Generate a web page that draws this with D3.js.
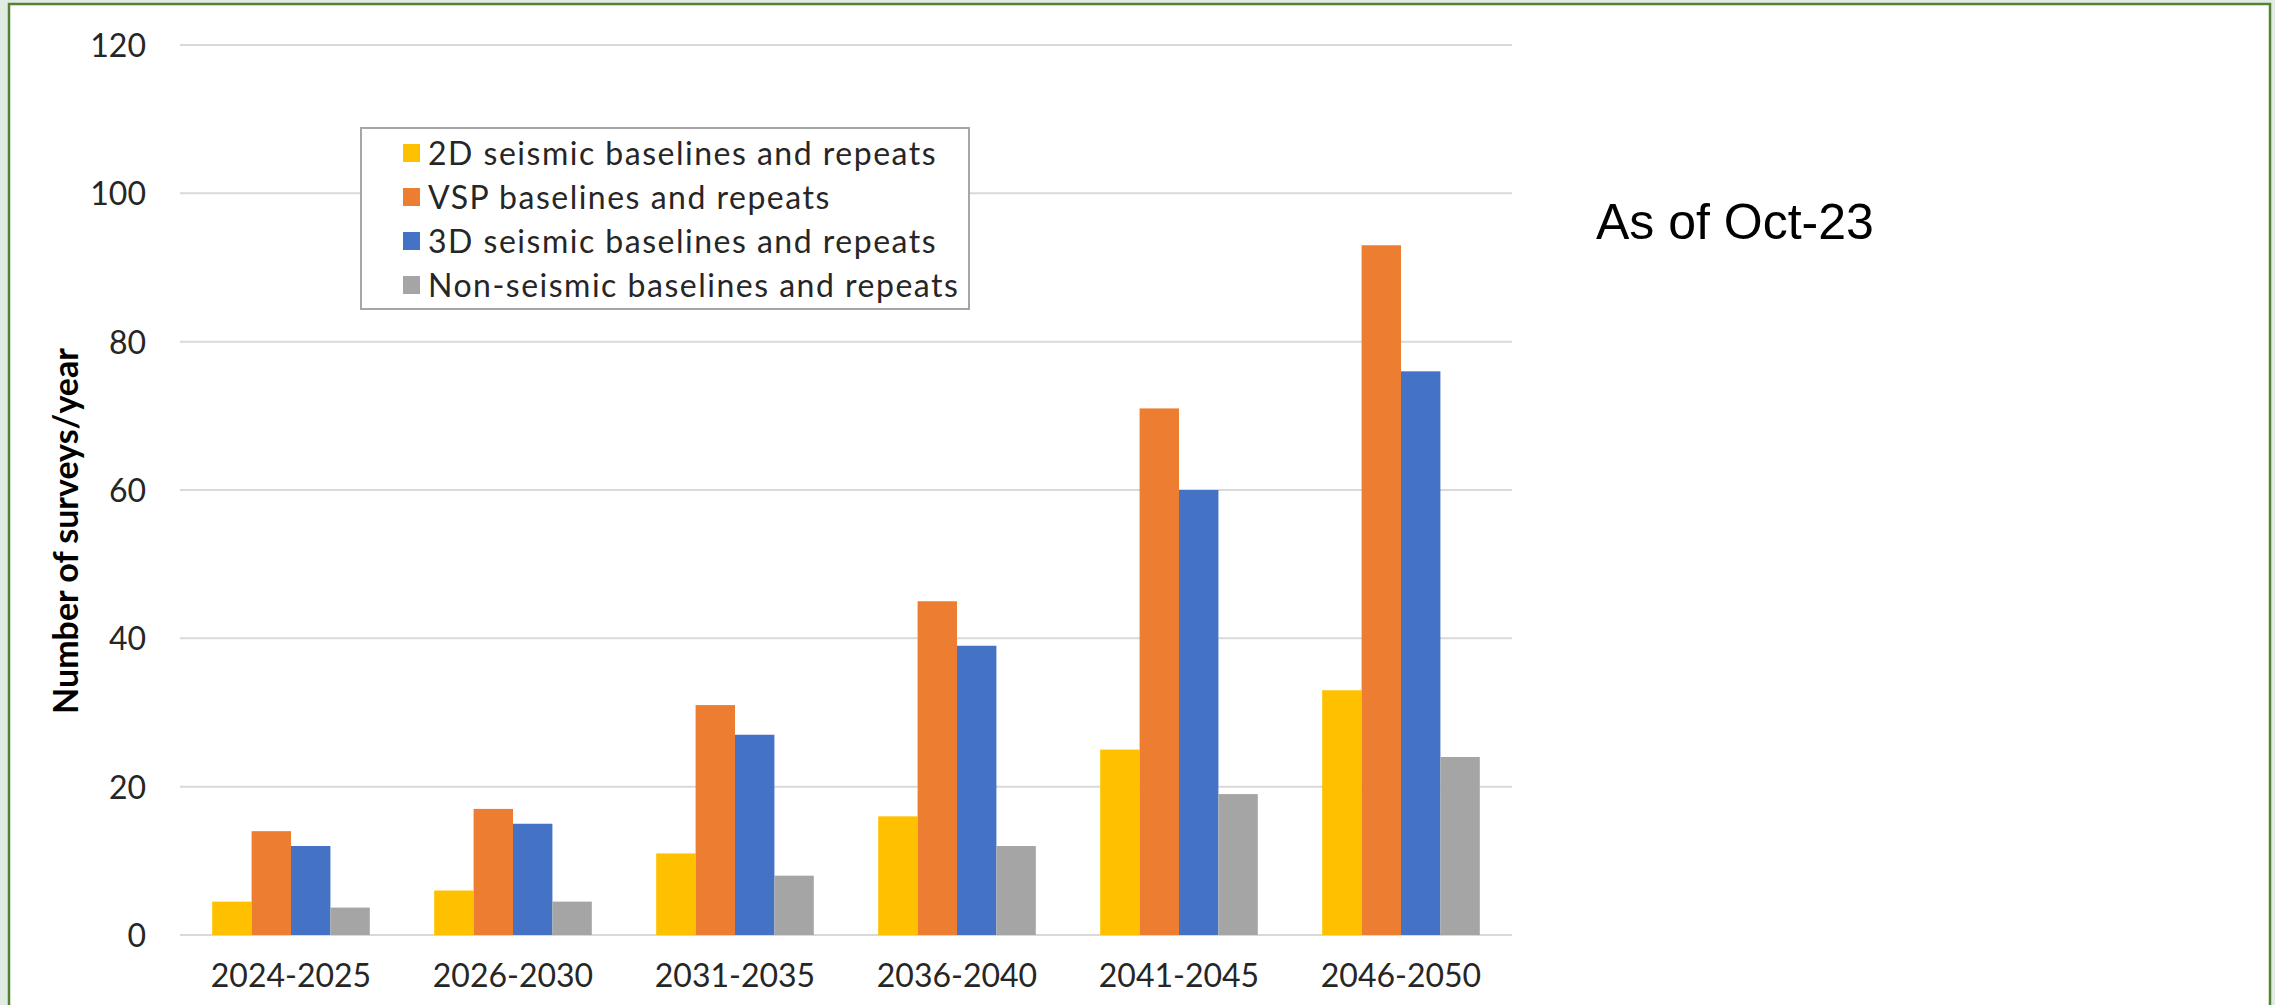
<!DOCTYPE html>
<html>
<head>
<meta charset="utf-8">
<script src="https://cdn.jsdelivr.net/npm/d3@7"></script>
<style>
  html, body { margin: 0; padding: 0; background: #e0ece3; }
  svg { display: block; }
  .tick text { font-family: Lato, "Open Sans", sans-serif; fill: #262626; }
</style>
</head>
<body>
<svg id="chart" width="2275" height="1005"></svg>
<script>
// periods on the x axis
const periods = ['2024-2025', '2026-2030', '2031-2035', '2036-2040', '2041-2045', '2046-2050'];
// series names (legend order)
const seriesNames = [
    '2D seismic baselines and repeats',
    'VSP baselines and repeats',
    '3D seismic baselines and repeats',
    'Non-seismic baselines and repeats'
];
const seriesColors = ['#ffc000', '#ed7d31', '#4472c4', '#a5a5a5'];
// surveys per year
const seismic2D = [4.5, 6, 11, 16, 25, 33];
const vsp = [14, 17, 31, 45, 71, 93];
const seismic3D = [12, 15, 27, 39, 60, 76];
const nonSeismic = [3.7, 4.5, 8, 12, 19, 24];
const yTicks = [0, 20, 40, 60, 80, 100, 120];

const seriesValues = [seismic2D, vsp, seismic3D, nonSeismic];

const svg = d3.select('#chart');

// frame
svg.append('rect').attr('x', 0).attr('y', 0).attr('width', 2275).attr('height', 1005).attr('fill', '#e0ece3');
svg.append('rect').attr('x', 9).attr('y', 4).attr('width', 2261).attr('height', 1020)
    .attr('fill', '#ffffff').attr('stroke', '#548235').attr('stroke-width', 2.5);

const x0 = d3.scaleBand().domain(periods).range([180, 1512]).paddingInner(0.29).paddingOuter(0.145);
const x1 = d3.scaleBand().domain(d3.range(seriesNames.length)).range([0, x0.bandwidth()]);
const y = d3.scaleLinear().domain([0, 120]).range([935, 45]);

// grid lines
svg.append('g').selectAll('line').data(yTicks).join('line')
    .attr('x1', 180).attr('x2', 1512)
    .attr('y1', d => y(d)).attr('y2', d => y(d))
    .attr('stroke', '#d9d9d9').attr('stroke-width', 2);

// y axis labels
const yAxis = svg.append('g').attr('transform', 'translate(146,0)')
    .call(d3.axisLeft(y).tickValues(yTicks).tickSize(0).tickPadding(0));
yAxis.select('.domain').remove();
yAxis.selectAll('text').attr('font-size', 32).attr('dy', '0.36em');

// x axis labels
const xAxis = svg.append('g').attr('transform', 'translate(0,935)')
    .call(d3.axisBottom(x0).tickSize(0).tickPadding(29));
xAxis.select('.domain').remove();
xAxis.selectAll('text').attr('font-size', 32);

// bars
const groups = svg.append('g').selectAll('g').data(periods).join('g')
    .attr('transform', d => 'translate(' + x0(d) + ',0)');
groups.selectAll('rect')
    .data((d, i) => seriesValues.map((vals, s) => ({ s: s, v: vals[i] })))
    .join('rect')
    .attr('x', d => x1(d.s))
    .attr('width', x1.bandwidth())
    .attr('y', d => y(d.v))
    .attr('height', d => y(0) - y(d.v))
    .attr('fill', d => seriesColors[d.s]);

// y title
svg.append('text')
    .attr('transform', 'translate(78,531) rotate(-90)')
    .attr('text-anchor', 'middle')
    .attr('font-family', 'Lato, "Open Sans", sans-serif')
    .attr('font-weight', 'bold')
    .attr('font-size', 34)
    .attr('fill', '#000')
    .text('Number of surveys/year');

// legend
const legend = svg.append('g');
legend.append('rect').attr('x', 361).attr('y', 128).attr('width', 608).attr('height', 181)
    .attr('fill', '#fff').attr('stroke', '#a6a6a6').attr('stroke-width', 2);
const rows = legend.selectAll('g.row').data(seriesNames).join('g').attr('class', 'row')
    .attr('transform', (d, i) => 'translate(403,' + (153 + i * 44) + ')');
rows.append('rect').attr('x', 0).attr('y', -9).attr('width', 17).attr('height', 18)
    .attr('fill', (d, i) => seriesColors[i]);
rows.append('text').attr('x', 25).attr('dy', '0.36em')
    .attr('font-family', 'Lato, "Open Sans", sans-serif')
    .attr('font-size', 32)
    .attr('letter-spacing', 1.5)
    .attr('fill', '#262626')
    .text(d => d);

// note
svg.append('text').attr('x', 1596).attr('y', 239)
    .attr('font-family', '"Liberation Sans", Arial, sans-serif')
    .attr('font-size', 50)
    .attr('fill', '#000')
    .text('As of Oct-23');
</script>
</body>
</html>
